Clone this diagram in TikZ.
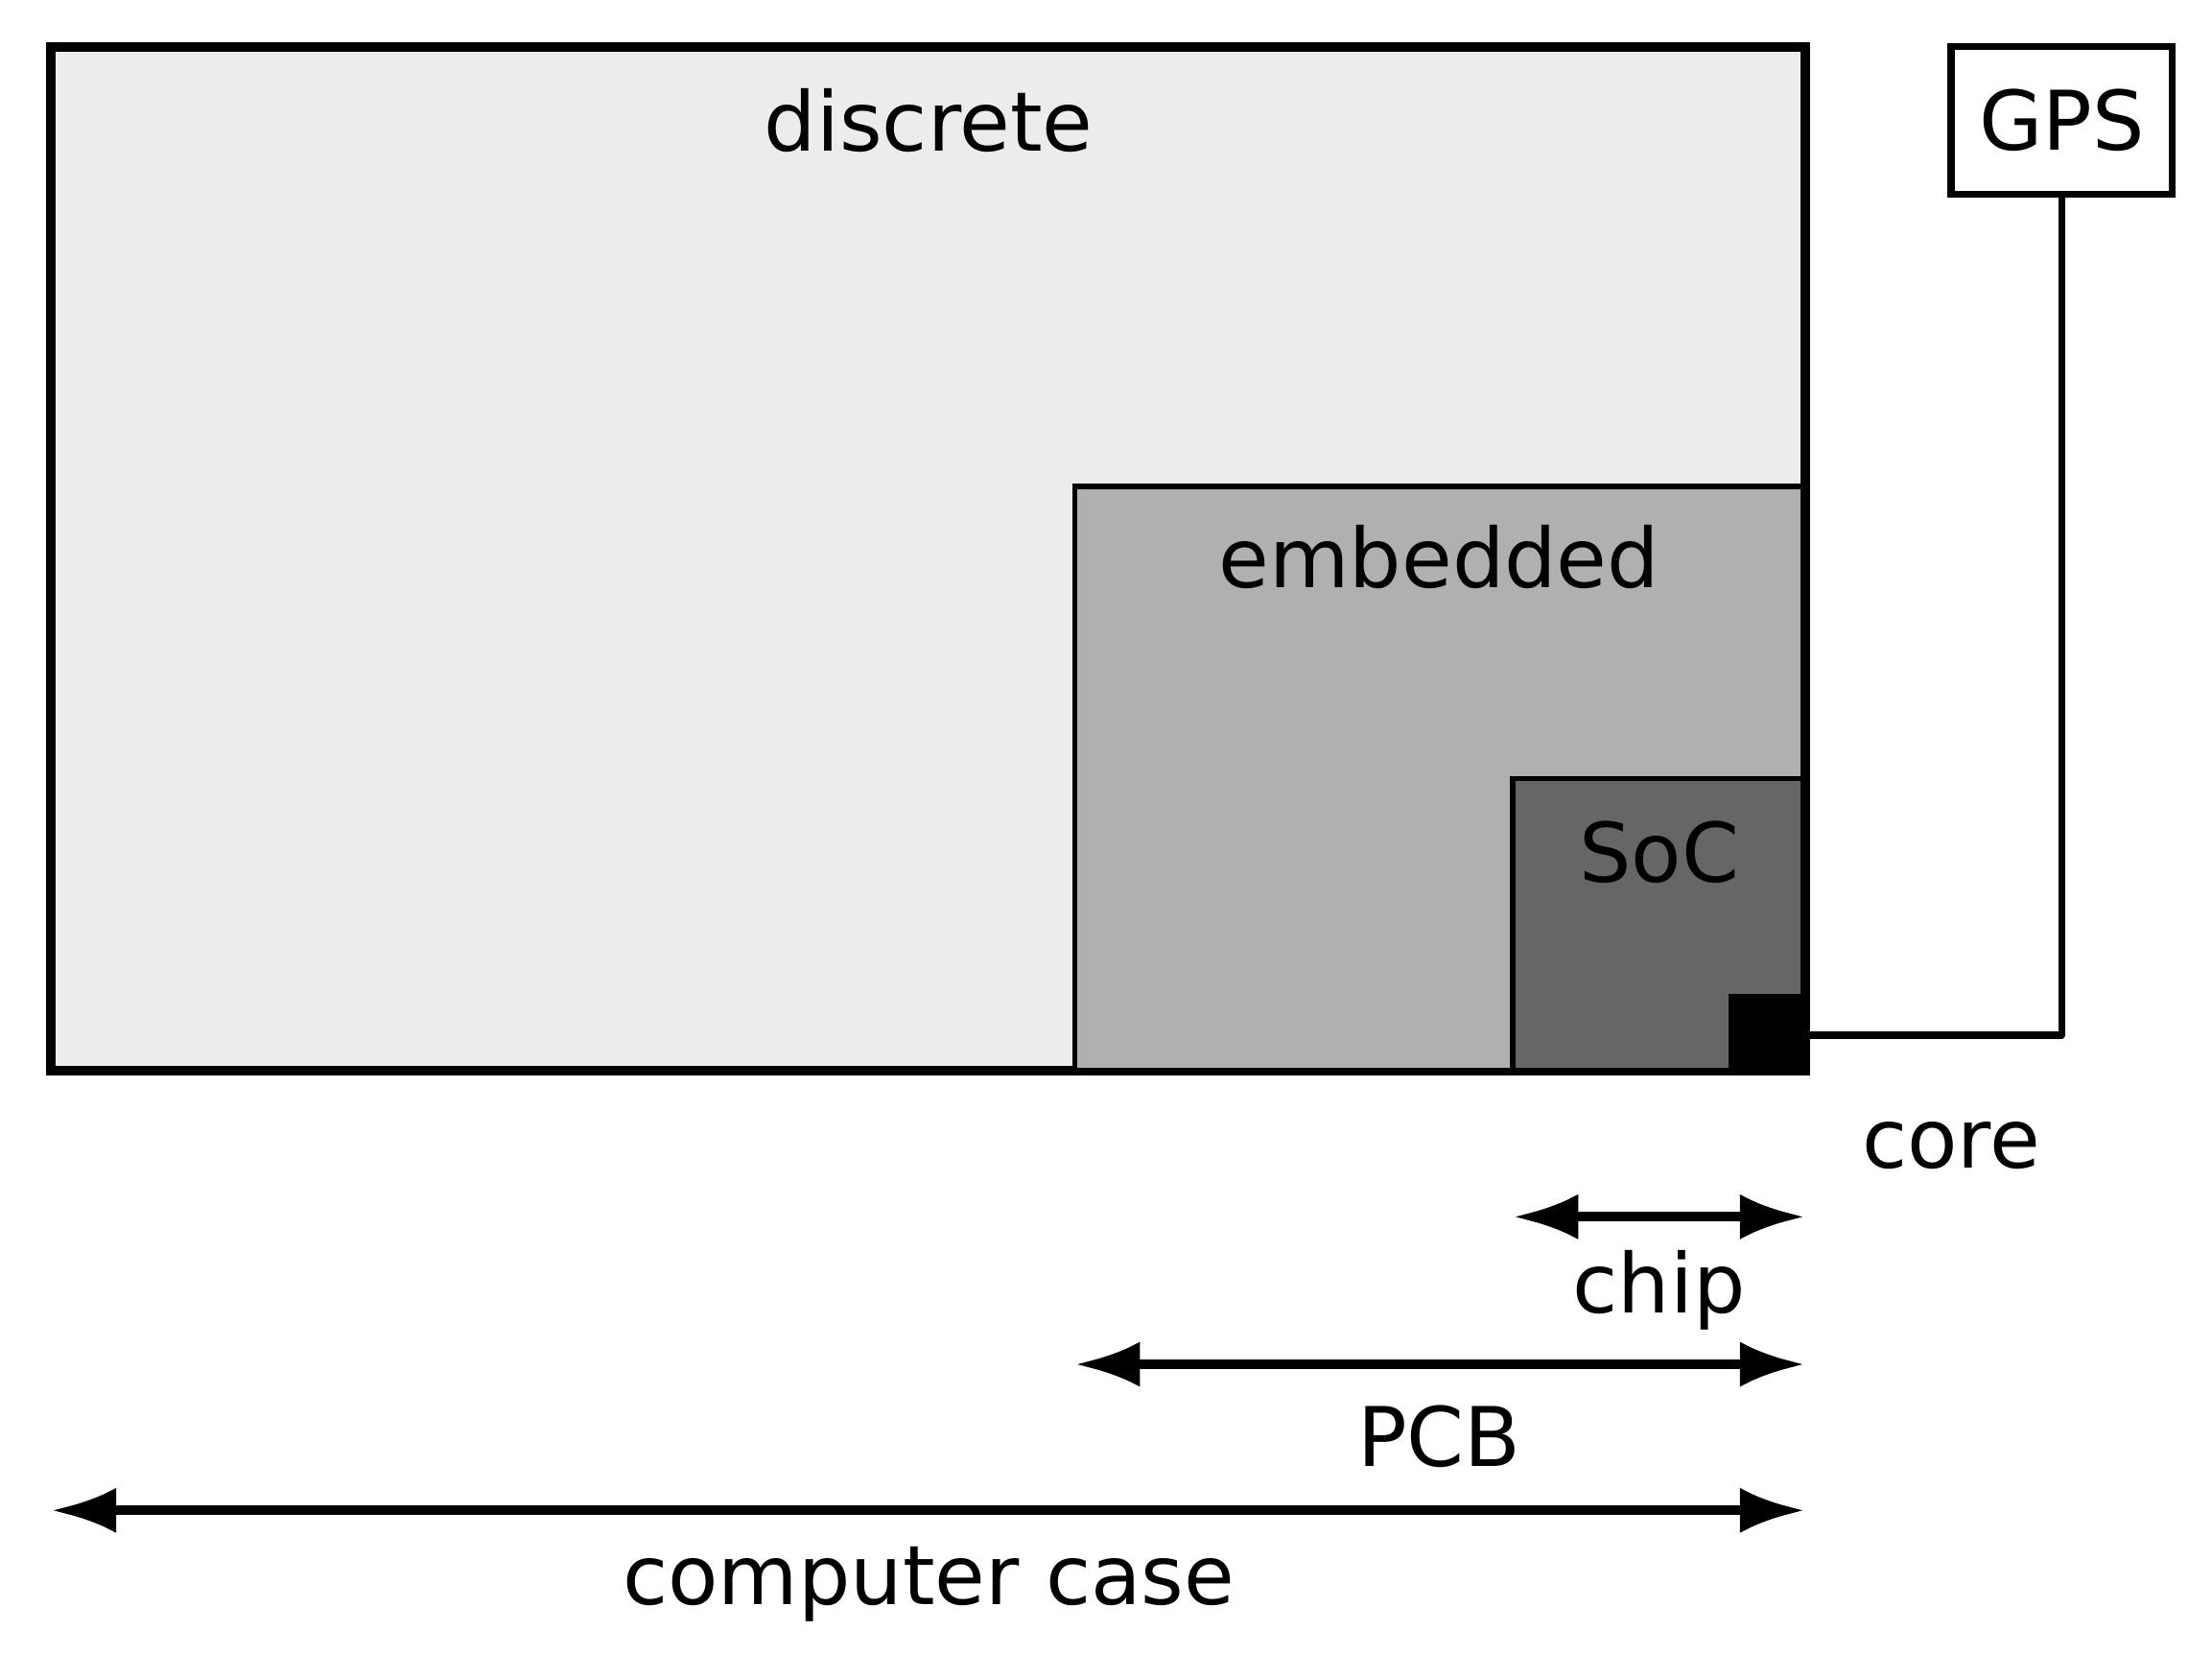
\documentclass[tikz,border=0pt]{standalone}
\usepackage{fontspec}
\setmainfont{DejaVu Sans}
\usetikzlibrary{arrows.meta}
\begin{document}
\begin{tikzpicture}[x=1pt,y=-1pt,
  lbl/.style={font=\fontsize{58}{60}\selectfont, inner sep=0pt},
  dim/.style={line width=7pt, {Latex[length=46pt,width=32pt]}-{Latex[length=46pt,width=32pt]}}]
\useasboundingbox (0,0) rectangle (1560,1166);
\draw[line width=7pt, fill={rgb,255:red,236;green,236;blue,236}] (36,33) rectangle (1273,755);
\draw[line width=4pt, fill={rgb,255:red,176;green,176;blue,176}] (758,343) rectangle (1272,755);
\draw[line width=4pt, fill={rgb,255:red,102;green,102;blue,102}] (1067,549) rectangle (1272,755);
\draw[line width=4pt, fill=black] (1221,703) rectangle (1272,755);
\node[draw, line width=5pt, minimum width=156pt, minimum height=104pt, lbl] (gps) at (1454,85) {GPS};
\coordinate (core) at (1272,730);
\draw[line width=5pt, line join=round] (core) -- (1454,730) -- (gps.south);
\node[lbl] (discrete) at (655,85) {discrete};
\node[lbl] (embedded) at (1015,393) {embedded};
\node[lbl] (soc) at (1170,601) {SoC};
\node[lbl] (corel) at (1376,808) {core};
\node[lbl] (chip) at (1170,910) {chip};
\node[lbl] (pcb) at (1015,1013) {PCB};
\node[lbl] (case) at (655,1117) {computer case};
\coordinate (c1) at (1067,858); \coordinate (c2) at (1273,858);
\coordinate (p1) at (758,962); \coordinate (p2) at (1273,962);
\coordinate (k1) at (36,1065); \coordinate (k2) at (1273,1065);
\draw[dim] (c1) -- (c2);
\draw[dim] (p1) -- (p2);
\draw[dim] (k1) -- (k2);
\end{tikzpicture}
\end{document}
